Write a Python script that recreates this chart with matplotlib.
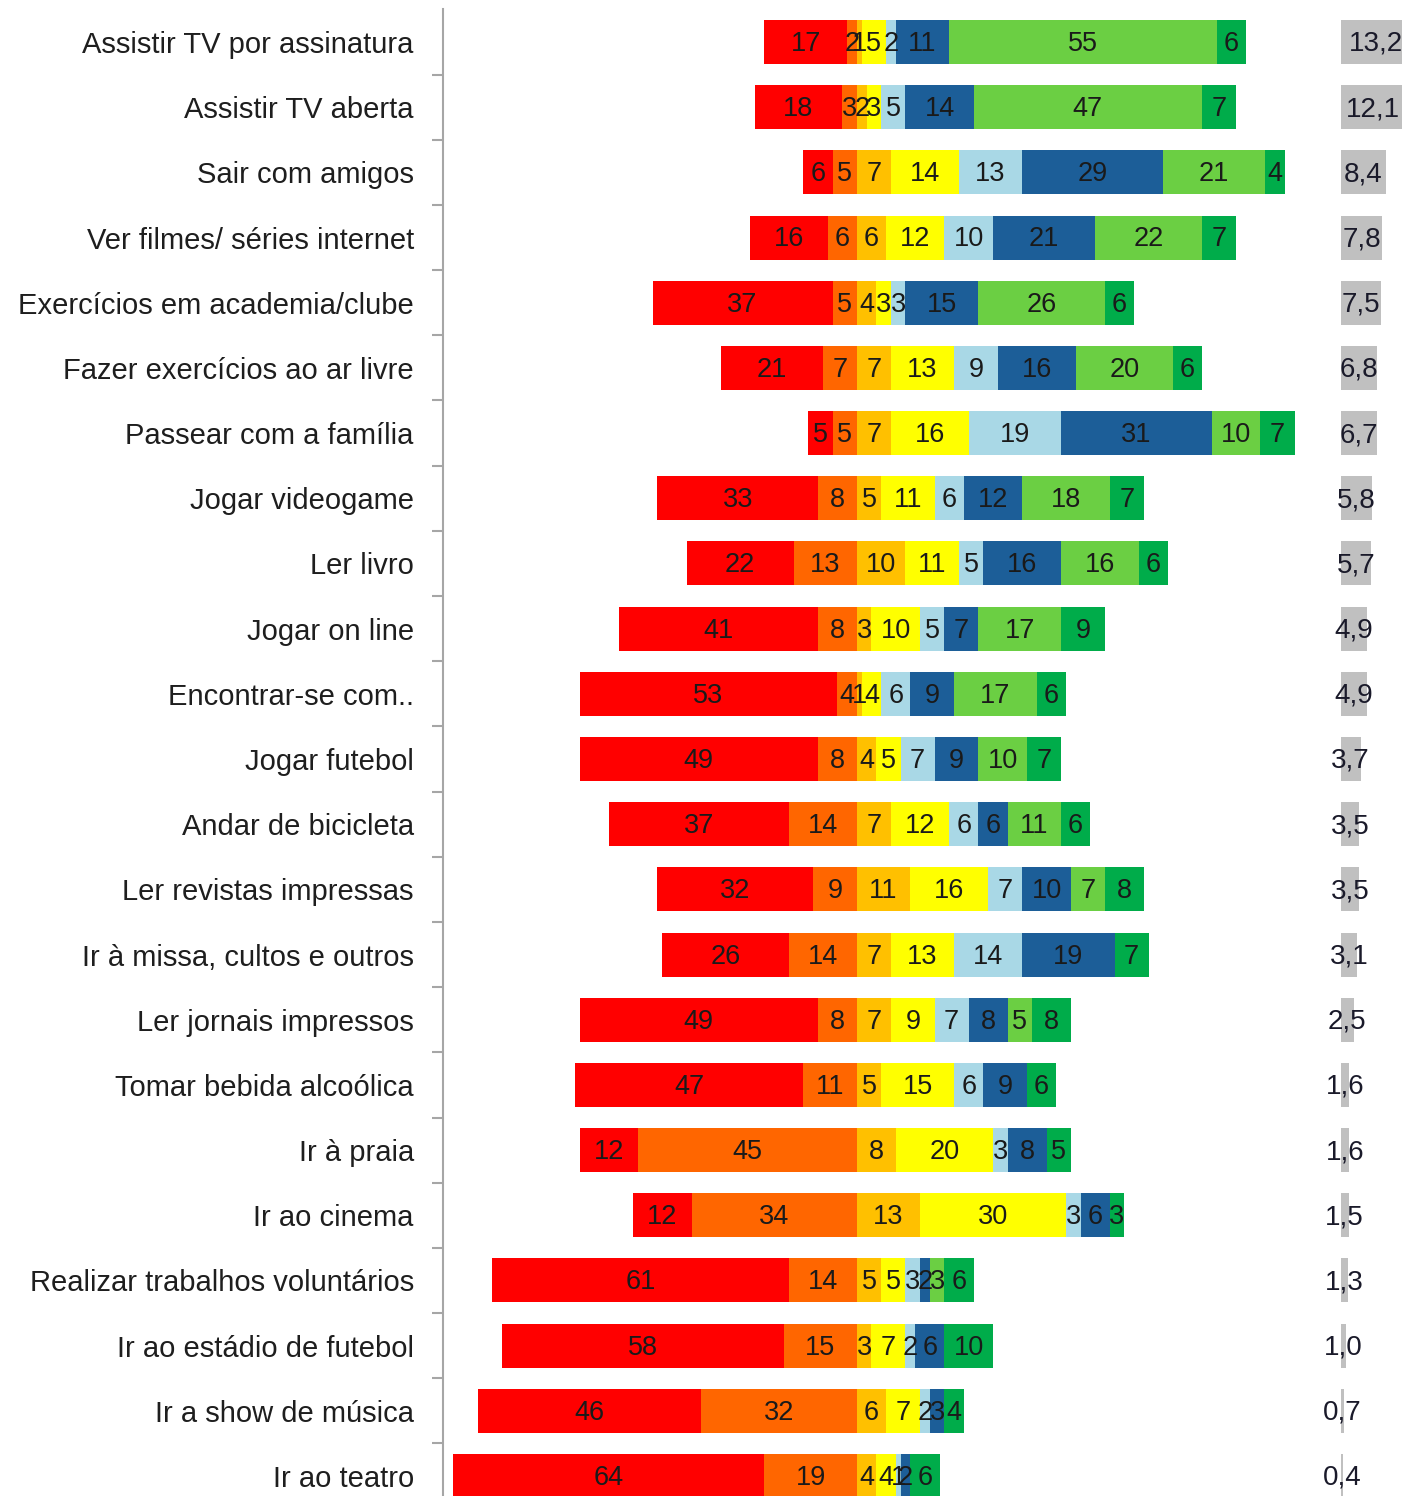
import matplotlib.pyplot as plt
import numpy as np

categories = [
    'Assistir TV por assinatura', 'Assistir TV aberta', 'Sair com amigos',
    'Ver filmes/ séries internet', 'Exercícios em academia/clube',
    'Fazer exercícios ao ar livre', 'Passear com a família', 'Jogar videogame',
    'Ler livro', 'Jogar on line', 'Encontrar-se com..', 'Jogar futebol',
    'Andar de bicicleta', 'Ler revistas impressas', 'Ir à missa, cultos e outros',
    'Ler jornais impressos', 'Tomar bebida alcoólica', 'Ir à praia',
    'Ir ao cinema', 'Realizar trabalhos voluntários', 'Ir ao estádio de futebol',
    'Ir a show de música', 'Ir ao teatro',
]

# eight answer levels, first two drawn to the left of zero
red = [17, 18, 6, 16, 37, 21, 5, 33, 22, 41, 53, 49, 37, 32, 26, 49, 47, 12, 12, 61, 58, 46, 64]
orange = [2, 3, 5, 6, 5, 7, 5, 8, 13, 8, 4, 8, 14, 9, 14, 8, 11, 45, 34, 14, 15, 32, 19]
amber = [1, 2, 7, 6, 4, 7, 7, 5, 10, 3, 1, 4, 7, 11, 7, 7, 5, 8, 13, 5, 3, 6, 4]
yellow = [5, 3, 14, 12, 3, 13, 16, 11, 11, 10, 4, 5, 12, 16, 13, 9, 15, 20, 30, 5, 7, 7, 4]
lightblue = [2, 5, 13, 10, 3, 9, 19, 6, 5, 5, 6, 7, 6, 7, 14, 7, 6, 3, 3, 3, 2, 2, 1]
darkblue = [11, 14, 29, 21, 15, 16, 31, 12, 16, 7, 9, 9, 6, 10, 19, 8, 9, 8, 6, 2, 6, 3, 2]
lightgreen = [55, 47, 21, 22, 26, 20, 10, 18, 16, 17, 17, 10, 11, 7, 0, 5, 0, 0, 0, 3, 0, 0, 0]
darkgreen = [6, 7, 4, 7, 6, 6, 7, 7, 6, 9, 6, 7, 6, 8, 7, 8, 6, 5, 3, 6, 10, 4, 6]

averages = [13.2, 12.1, 8.4, 7.8, 7.5, 6.8, 6.7, 5.8, 5.7, 4.9, 4.9, 3.7, 3.5,
            3.5, 3.1, 2.5, 1.6, 1.6, 1.5, 1.3, 1.0, 0.7, 0.4]

colors = ['#ff0000', '#ff6600', '#ffc000', '#ffff00',
          '#a9d8e6', '#1c5e98', '#6bcf43', '#00ac4a']

plt.rcParams['font.family'] = ['Liberation Sans', 'DejaVu Sans']

fig = plt.figure(figsize=(14.02, 14.96), dpi=100)
ax = fig.add_axes([443 / 1402, 0, 1 - 443 / 1402, (1496 - 9.4) / 1496])

y = np.arange(len(categories))
h = 0.675

right_series = [amber, yellow, lightblue, darkblue, lightgreen, darkgreen]
right_colors = colors[2:]

# left part (red + orange) ending at zero
orange_arr = np.array(orange)
red_arr = np.array(red)
ax.barh(y, -orange_arr, height=h, color=colors[1], linewidth=0)
ax.barh(y, -red_arr, left=-orange_arr, height=h, color=colors[0], linewidth=0)

def label_segments(starts, widths):
    for yi, s, w in zip(y, starts, widths):
        if w > 0:
            ax.text(s + w / 2, yi + 0.03, str(w), ha='center', va='center',
                    fontsize=19.5, color='#1a1a1a')

label_segments(-orange_arr - red_arr, red)
label_segments(-orange_arr, orange)

cum = np.zeros(len(categories))
for vals, c in zip(right_series, right_colors):
    vals = np.array(vals)
    ax.barh(y, vals, left=cum, height=h, color=c, linewidth=0)
    label_segments(cum, vals)
    cum = cum + vals

# average column in grey
x0 = 99.5
scale = 1.1
avg = np.array(averages)
ax.barh(y, avg * scale, left=x0, height=h, color='#c0c0c0', linewidth=0)
for yi, a in zip(y, averages):
    ax.text(x0 + a * scale / 2, yi + 0.03, f'{a:.1f}'.replace('.', ','), ha='center',
            va='center', fontsize=20, color='#1a1a2a')

ax.set_xlim(-85.1, 112.1)
ax.set_ylim(22 + 20 / 65.2, -0.5)

for s in ['top', 'right', 'bottom']:
    ax.spines[s].set_visible(False)
ax.spines['left'].set_color('#a6a6a6')
ax.spines['left'].set_linewidth(1.5)
ax.set_xticks([])
ax.set_yticks(y)
ax.set_yticklabels(categories, fontsize=21, color='#1e1e1e')
ax.tick_params(axis='y', which='major', length=0, pad=21)
ax.set_yticks(np.arange(0.5, len(categories) - 1, 1), minor=True)
ax.tick_params(axis='y', which='minor', length=8, width=1.5, color='#a6a6a6')

plt.savefig('out.png', dpi=100)
